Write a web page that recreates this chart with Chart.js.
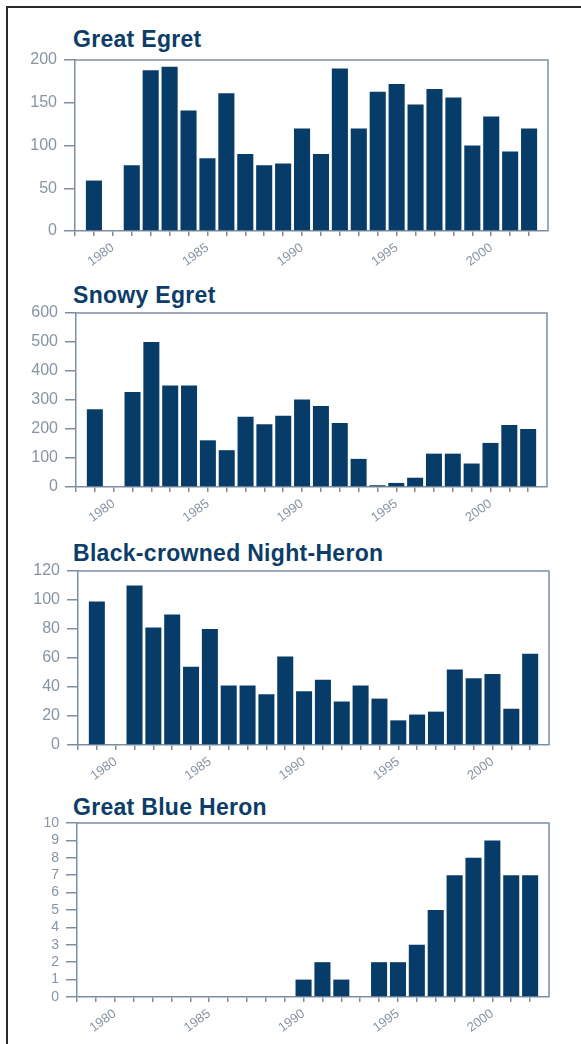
<!DOCTYPE html>
<html>
<head>
<meta charset="utf-8">
<script src="https://cdn.jsdelivr.net/npm/chart.js@4.4.1/dist/chart.umd.min.js"></script>
<style>
  html, body { margin: 0; padding: 0; background: #ffffff; }
  body { width: 581px; height: 1044px; position: relative; overflow: hidden; }
  #frame { position: absolute; left: 6px; top: 6px; width: 700px; height: 1200px;
           border-left: 2px solid #2a2a2a; border-top: 2px solid #2a2a2a; }
  .title { position: absolute; left: 73px; font: bold 23px "Liberation Sans", Arial, sans-serif;
           letter-spacing: 0.3px; color: #0c3d69; line-height: 23px; white-space: nowrap; }
  canvas { position: absolute; left: 0; }
</style>
</head>
<body>
<div id="frame"></div>

<div class="title" style="top:28px">Great Egret</div>
<div class="title" style="top:284px">Snowy Egret</div>
<div class="title" style="top:542px">Black-crowned Night-Heron</div>
<div class="title" style="top:796px">Great Blue Heron</div>

<canvas id="c1" width="581" height="250" style="top:30px"></canvas>
<canvas id="c2" width="581" height="250" style="top:283px"></canvas>
<canvas id="c3" width="581" height="250" style="top:541px"></canvas>
<canvas id="c4" width="581" height="250" style="top:793px"></canvas>

<script>
// Survey years (the axis runs from 1978 to 2003; no counts in 1980)
const years = ['1978', '1979', '1980', '1981', '1982', '1983', '1984', '1985', '1986',
               '1987', '1988', '1989', '1990', '1991', '1992', '1993', '1994', '1995',
               '1996', '1997', '1998', '1999', '2000', '2001', '2002', '2003'];
const labeledYears = ['1980', '1985', '1990', '1995', '2000'];

// Nest counts per year
const greatEgret = [null, 59, null, 77, 188, 192, 141, 85, 161, 90, 77, 79, 120,
                    90, 190, 120, 163, 172, 148, 166, 156, 100, 134, 93, 120, null];
const snowyEgret = [null, 268, null, 328, 500, 350, 350, 161, 127, 242, 216, 246, 302,
                    279, 221, 97, 6, 14, 32, 115, 115, 81, 152, 214, 200, null];
const nightHeron = [null, 99, null, 110, 81, 90, 54, 80, 41, 41, 35, 61, 37,
                    45, 30, 41, 32, 17, 21, 23, 52, 46, 49, 25, 63, null];
const greatBlueHeron = [null, 0, null, 0, 0, 0, 0, 0, 0, 0, 0, 0, 1,
                        2, 1, 0, 2, 2, 3, 5, 7, 8, 9, 7, 7, null];

// Value-axis ticks for each panel
const greatEgretTicks = [0, 50, 100, 150, 200];
const snowyEgretTicks = [0, 100, 200, 300, 400, 500, 600];
const nightHeronTicks = [0, 20, 40, 60, 80, 100, 120];
const greatBlueHeronTicks = [0, 1, 2, 3, 4, 5, 6, 7, 8, 9, 10];

const BAR = '#083c68';
const AXIS = '#7e8ea2';
const TICK_TEXT = '#8794a5';
const FONT = '"Liberation Sans", Arial, sans-serif';

// Closes the plot box along its top and right sides
const boxFrame = {
  id: 'boxFrame',
  afterDraw(chart) {
    const { ctx, chartArea: a } = chart;
    ctx.save();
    ctx.strokeStyle = AXIS;
    ctx.lineWidth = 1.5;
    ctx.beginPath();
    ctx.moveTo(a.left, a.top);
    ctx.lineTo(a.right, a.top);
    ctx.lineTo(a.right, a.bottom);
    ctx.stroke();
    ctx.restore();
  }
};

function makePanel(id, values, yTicks, pad, yFontSize) {
  new Chart(document.getElementById(id), {
    type: 'bar',
    data: {
      labels: years,
      datasets: [{
        data: values,
        backgroundColor: BAR,
        borderWidth: 0,
        barPercentage: 0.85,
        categoryPercentage: 1.0
      }]
    },
    options: {
      responsive: false,
      animation: false,
      devicePixelRatio: 1,
      layout: { padding: pad },
      plugins: { legend: { display: false }, tooltip: { enabled: false } },
      scales: {
        x: {
          type: 'category',
          offset: false,
          grid: {
            offset: false,
            drawOnChartArea: false,
            drawTicks: true,
            tickLength: 5,
            lineWidth: 1.5,
            color: (c) => (c.index === years.length - 1 ? 'rgba(0,0,0,0)' : AXIS)
          },
          border: { display: true, color: AXIS, width: 1.5 },
          ticks: {
            autoSkip: false,
            minRotation: 36,
            maxRotation: 36,
            padding: 4,
            color: TICK_TEXT,
            font: { family: FONT, size: 13 },
            callback: (v, i) => (labeledYears.includes(years[i]) ? years[i] : '')
          },
          afterFit: (s) => { s.height = 45; }
        },
        y: {
          min: yTicks[0],
          max: yTicks[yTicks.length - 1],
          grid: {
            drawOnChartArea: false,
            drawTicks: true,
            tickLength: 11,
            lineWidth: 1.5,
            color: AXIS
          },
          border: { display: true, color: AXIS, width: 1.5 },
          ticks: {
            stepSize: yTicks[1] - yTicks[0],
            autoSkip: false,
            padding: 7,
            color: TICK_TEXT,
            font: { family: FONT, size: yFontSize }
          },
          afterFit: (s) => { s.width = 65; }
        }
      }
    },
    plugins: [boxFrame]
  });
}

makePanel('c1', greatEgret, greatEgretTicks, { left: 10, right: 33, top: 30, bottom: 4 }, 16);
makePanel('c2', snowyEgret, snowyEgretTicks, { left: 11, right: 34, top: 30, bottom: 1 }, 16);
makePanel('c3', nightHeron, nightHeronTicks, { left: 13, right: 32, top: 30, bottom: 1 }, 16);
makePanel('c4', greatBlueHeron, greatBlueHeronTicks, { left: 12, right: 32, top: 30, bottom: 1 }, 14);
</script>
</body>
</html>
